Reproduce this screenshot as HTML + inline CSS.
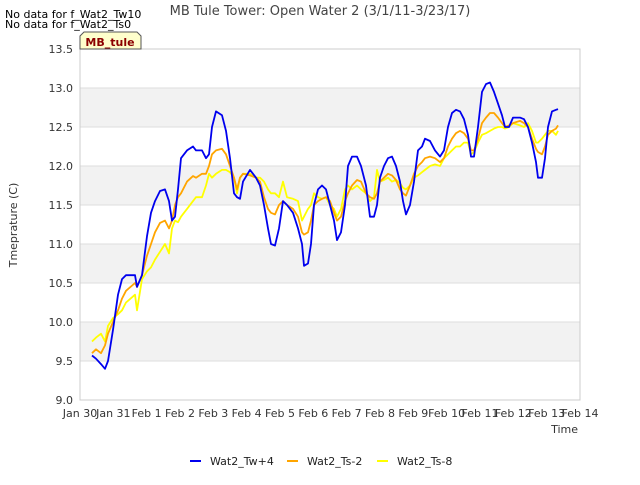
<!DOCTYPE html>
<html><head><meta charset="utf-8"><style>
body{margin:0;background:#fff;font-family:"Liberation Sans","DejaVu Sans",sans-serif;}
svg text{font-family:"DejaVu Sans","Liberation Sans",sans-serif;}
</style></head><body>
<svg id="chart" width="640" height="480" viewBox="0 0 640 480" xmlns="http://www.w3.org/2000/svg">
<rect width="640" height="480" fill="#fff"/>
<text x="320" y="15" text-anchor="middle" font-size="13" fill="#444">MB Tule Tower: Open Water 2 (3/1/11-3/23/17)</text>
<text x="5" y="18" font-size="11" fill="#000">No data for f_Wat2_Tw10</text>
<text x="5" y="28" font-size="11" fill="#000">No data for f_Wat2_Ts0</text>
<g id="bands"></g>
<g id="grid"></g>
<rect x="80" y="49" width="500" height="351" fill="none" stroke="#ccc"/>
<g id="yticks"></g>
<g id="xticks"></g>
<g id="series"></g>
<path d="M80,49 L80,36 L84,32 L137,32 L141,36 L141,49 Z" fill="#ffffcc" stroke="#555"/>
<text x="110" y="46" text-anchor="middle" font-size="11" font-weight="bold" fill="#8b0000">MB_tule</text>
<text transform="translate(17,225) rotate(-90)" text-anchor="middle" font-size="11" fill="#333">Tmeprature (C)</text>
<text x="578" y="433" text-anchor="end" font-size="11" fill="#333">Time</text>
<g id="legend"></g>
</svg>
<script>
const timeDays=[0.36,0.48,0.63,0.75,0.84,0.99,1.14,1.26,1.38,1.65,1.71,1.86,2.01,2.13,2.25,2.4,2.55,2.67,2.76,2.85,2.94,3.03,3.21,3.39,3.48,3.66,3.78,3.87,3.96,4.08,4.26,4.38,4.5,4.62,4.71,4.8,4.89,5.1,5.28,5.4,5.52,5.64,5.73,5.85,5.97,6.09,6.21,6.39,6.54,6.66,6.72,6.84,6.93,7.02,7.14,7.26,7.38,7.5,7.62,7.71,7.83,7.95,8.04,8.16,8.31,8.43,8.58,8.7,8.82,8.91,9.0,9.12,9.24,9.36,9.48,9.6,9.69,9.78,9.9,10.02,10.14,10.26,10.35,10.5,10.65,10.8,10.92,11.04,11.16,11.28,11.4,11.52,11.64,11.73,11.82,11.94,12.06,12.18,12.3,12.42,12.54,12.66,12.75,12.87,12.99,13.2,13.32,13.44,13.56,13.68,13.74,13.86,13.95,14.04,14.16,14.28,14.34];
const tw4=[9.57,9.53,9.46,9.4,9.5,9.9,10.35,10.55,10.6,10.6,10.45,10.6,11.1,11.4,11.55,11.68,11.7,11.55,11.3,11.35,11.7,12.1,12.2,12.25,12.2,12.2,12.1,12.15,12.5,12.7,12.65,12.45,12.1,11.65,11.6,11.58,11.8,11.95,11.85,11.75,11.5,11.2,11.0,10.98,11.2,11.55,11.5,11.4,11.2,11.0,10.72,10.75,11.0,11.5,11.7,11.75,11.7,11.5,11.3,11.05,11.15,11.5,12.0,12.12,12.12,12.0,11.75,11.35,11.35,11.5,11.85,12.0,12.1,12.12,12.0,11.8,11.55,11.38,11.5,11.8,12.2,12.25,12.35,12.32,12.2,12.12,12.2,12.5,12.68,12.72,12.7,12.6,12.4,12.12,12.12,12.5,12.95,13.05,13.07,12.95,12.8,12.65,12.5,12.5,12.62,12.62,12.6,12.5,12.3,12.05,11.85,11.85,12.1,12.5,12.7,12.72,12.73];
const ts2=[9.6,9.65,9.6,9.7,9.85,10.0,10.15,10.3,10.4,10.5,10.45,10.6,10.85,11.0,11.15,11.27,11.3,11.2,11.3,11.5,11.6,11.65,11.8,11.87,11.85,11.9,11.9,12.0,12.15,12.2,12.22,12.15,12.0,11.85,11.7,11.85,11.9,11.88,11.85,11.8,11.6,11.45,11.4,11.38,11.5,11.55,11.5,11.45,11.35,11.15,11.12,11.15,11.3,11.5,11.55,11.58,11.6,11.55,11.4,11.3,11.35,11.55,11.65,11.75,11.82,11.8,11.65,11.6,11.58,11.65,11.8,11.85,11.9,11.88,11.82,11.7,11.65,11.62,11.75,11.9,12.0,12.05,12.1,12.12,12.1,12.05,12.1,12.25,12.35,12.42,12.45,12.42,12.35,12.2,12.2,12.35,12.55,12.62,12.68,12.68,12.62,12.55,12.5,12.52,12.55,12.58,12.55,12.5,12.35,12.22,12.18,12.15,12.25,12.4,12.45,12.48,12.52];
const ts8=[9.75,9.8,9.85,9.75,9.95,10.05,10.1,10.15,10.25,10.35,10.15,10.55,10.65,10.7,10.8,10.9,11.0,10.88,11.2,11.3,11.28,11.35,11.45,11.55,11.6,11.6,11.75,11.9,11.85,11.9,11.95,11.95,11.92,11.85,11.65,11.85,11.9,11.9,11.85,11.85,11.8,11.7,11.65,11.65,11.6,11.8,11.6,11.58,11.55,11.3,11.35,11.45,11.5,11.65,11.6,11.58,11.6,11.5,11.45,11.35,11.45,11.7,11.75,11.7,11.75,11.7,11.65,11.55,11.6,11.95,11.8,11.82,11.85,11.8,11.82,11.78,11.72,11.7,11.75,11.85,11.88,11.92,11.95,12.0,12.02,12.0,12.1,12.15,12.2,12.25,12.25,12.3,12.3,12.15,12.18,12.3,12.4,12.42,12.45,12.48,12.5,12.5,12.48,12.5,12.55,12.52,12.5,12.55,12.45,12.3,12.3,12.35,12.4,12.45,12.45,12.4,12.45];
const yTickLabels=["9.0","9.5","10.0","10.5","11.0","11.5","12.0","12.5","13.0","13.5"];
const xTickLabels=["Jan 30","Jan 31","Feb 1","Feb 2","Feb 3","Feb 4","Feb 5","Feb 6","Feb 7","Feb 8","Feb 9","Feb 10","Feb 11","Feb 12","Feb 13","Feb 14"];
const seriesNames=["Wat2_Tw+4","Wat2_Ts-2","Wat2_Ts-8"];

const NS="http://www.w3.org/2000/svg";
const X0=80,X1=580,Y0=400,Y1=49,YMIN=9,YMAX=13.5,DMAX=15;
function xs(d){return X0+(X1-X0)*d/DMAX;}
function ys(v){return Y0-(Y0-Y1)*(v-YMIN)/(YMAX-YMIN);}
function mk(tag,attrs,parent){const e=document.createElementNS(NS,tag);for(const k in attrs)e.setAttribute(k,attrs[k]);parent.appendChild(e);return e;}
const bands=document.getElementById('bands'),grid=document.getElementById('grid'),yt=document.getElementById('yticks'),xt=document.getElementById('xticks'),sg=document.getElementById('series'),lg=document.getElementById('legend');
for(let i=0;i<yTickLabels.length;i++){
  const v=parseFloat(yTickLabels[i]);
  if(i%2===1&&i<yTickLabels.length-1){
    const b=mk('rect',{x:X0,y:ys(v+0.5),width:X1-X0,height:ys(v)-ys(v+0.5),fill:'#f2f2f2'},bands);
    
    
  }
  const l=mk('line',{x1:X0,x2:X1,y1:ys(v),y2:ys(v),stroke:'#ddd'},grid);
  
  
  const t=mk('text',{x:73,y:ys(v)+4,'text-anchor':'end','font-size':11,fill:'#333'},yt);
  t.textContent=yTickLabels[i];
  
  
}
for(let i=0;i<xTickLabels.length;i++){
  const t=mk('text',{x:xs(i),y:417,'text-anchor':'middle','font-size':11,fill:'#333'},xt);
  t.textContent=xTickLabels[i];
  
  
}
const colors=['#0000ee','#ffa500','#ffff00'];
const data=[tw4,ts2,ts8];
const lineNames=['line-wat2-tw4','line-wat2-ts2','line-wat2-ts8'];
for(let s=2;s>=0;s--){
  const d=timeDays.map((t,i)=>(i?'L':'M')+xs(t).toFixed(1)+','+ys(data[s][i]).toFixed(1)).join(' ');
  const p=mk('path',{d:d,fill:'none',stroke:colors[s],'stroke-width':1.8,'stroke-linejoin':'round'},sg);
  
  
}
const lx=[190,287,377];
for(let s=0;s<3;s++){
  const g=mk('g',{},lg);
  
  
  mk('line',{x1:lx[s],x2:lx[s]+11,y1:461,y2:461,stroke:colors[s],'stroke-width':2},g);
  const t=mk('text',{x:lx[s]+20,y:465,'font-size':11,fill:'#222'},g);
  t.textContent=seriesNames[s];
}
</script>
</body></html>
